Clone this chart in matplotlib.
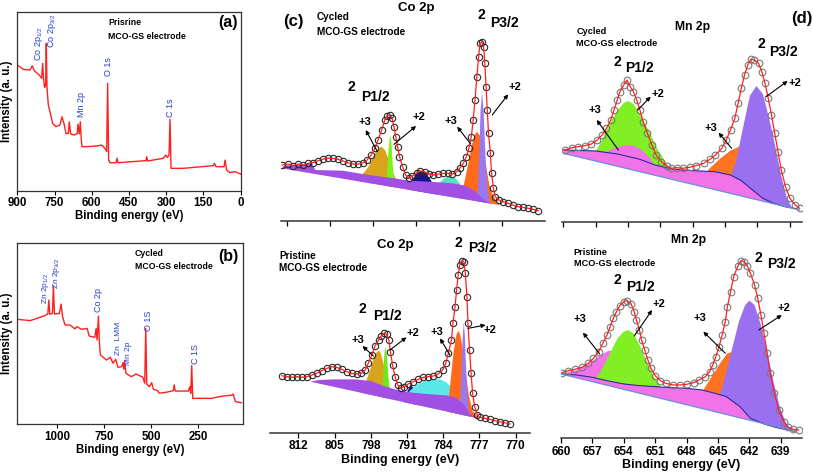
import matplotlib.pyplot as plt

plt.rcParams['font.family'] = ['Liberation Sans', 'DejaVu Sans']
plt.rcParams['font.weight'] = 'bold'
plt.rcParams['mathtext.default'] = 'regular'

# ---- survey spectra (energy eV, intensity a.u.) ----
surv_a_e = [900, 875.8, 849.0, 839.6, 831.5, 811.4, 802.0, 797.9, 793.9, 789.9, 785.8, 783.2, 780.5,
            775.1, 768.4, 757.6, 744.2, 728.1, 720.0, 712.0, 703.9, 694.5, 690.5, 685.1, 671.7, 658.2,
            655.5, 650.2, 646.2, 642.1, 639.4, 620.6, 580.3, 560.1, 546.7, 540.0, 536.0, 532.0, 526.6,
            502.4, 498.4, 494.3, 459.4, 381.5, 378.8, 374.8, 311.6, 302.2, 295.5, 288.8, 284.8, 280.7,
            231.0, 110.2, 106.1, 99.4, 67.2, 63.1, 56.4, 43.0, 22.8, 0]
surv_a_i = [70.2, 67.8, 67.4, 69.8, 67.0, 64.6, 62.8, 71.1, 61.8, 57.7, 59.0, 82.3, 58.1,
            47.9, 44.1, 37.6, 35.8, 36.7, 41.3, 37.6, 32.0, 32.0, 38.5, 31.7, 31.1, 32.0,
            37.2, 31.7, 38.5, 28.3, 24.6, 24.6, 25.0, 25.5, 23.6, 21.8, 60.0, 17.1, 15.6,
            15.6, 18.1, 15.6, 16.0, 16.8, 19.0, 16.6, 18.1, 19.9, 18.6, 19.9, 39.9, 12.5,
            12.5, 14.0, 15.3, 13.4, 13.4, 17.1, 11.5, 10.1, 10.6, 9.3]

surv_b_e = [1211.7, 1144.6, 1074.1, 1051.2, 1045.9, 1040.6, 1026.5, 1021.2, 1015.9, 989.4, 980.6, 971.8,
            959.4, 933.0, 906.5, 897.7, 871.2, 841.2, 830.7, 800.7, 793.6, 788.3, 781.3, 776.0, 770.7,
            738.9, 717.8, 703.6, 689.5, 677.2, 657.8, 650.7, 645.4, 641.9, 634.9, 606.6, 580.2, 544.9,
            534.3, 529.0, 523.7, 509.6, 497.3, 488.4, 465.5, 456.7, 421.4, 382.6, 377.3, 372.0, 301.5,
            294.4, 289.1, 283.8, 278.5, 174.4, 139.1, 95.1, 68.6, 63.3, 51.0, 19.2]
surv_b_i = [57.8, 57.1, 59.6, 60.7, 68.4, 60.6, 61.1, 75.8, 60.7, 61.1, 66.2, 58.9,
            54.7, 54.7, 52.5, 53.8, 52.3, 52.8, 48.6, 47.9, 52.8, 46.4, 59.6, 44.6, 38.2,
            35.4, 36.9, 33.6, 35.8, 31.4, 31.7, 33.9, 30.3, 35.0, 28.1, 26.2, 27.7, 25.9,
            22.6, 52.8, 22.2, 20.7, 22.9, 19.3, 18.5, 17.1, 17.6, 18.5, 21.7, 18.3, 18.3,
            20.7, 17.1, 32.3, 14.3, 14.3, 15.2, 15.8, 16.1, 16.7, 12.5, 11.9]

# ---- Co 2p, cycled: (energy, intensity) ----
co_cyc = [(812.8, 167), (811.8, 170), (811.0, 165), (810.2, 170), (809.4, 167), (808.6, 172), (807.8, 174),
          (807.0, 180), (806.1, 185), (805.3, 188), (804.5, 187), (803.7, 184), (802.9, 179), (802.1, 174),
          (801.3, 170), (800.4, 170), (799.6, 174), (799.0, 182), (798.3, 197), (797.7, 217), (797.2, 242),
          (796.6, 272), (796.1, 302), (795.7, 315), (795.3, 317), (794.9, 307), (794.6, 282), (794.3, 252),
          (794.0, 222), (793.7, 192), (793.2, 162), (792.7, 137), (792.2, 127), (791.6, 134), (790.9, 144),
          (790.3, 149), (789.6, 147), (788.9, 140), (788.2, 137), (787.4, 140), (786.6, 142), (785.8, 142),
          (785.1, 140), (784.4, 147), (783.9, 157), (783.3, 172), (782.8, 192), (782.4, 217), (782.0, 252),
          (781.7, 302), (781.4, 362), (781.1, 432), (780.8, 492), (780.6, 532), (780.3, 537), (780.0, 522),
          (779.8, 472), (779.6, 402), (779.4, 332), (779.2, 262), (778.9, 202), (778.7, 142), (778.4, 97),
          (778.1, 72), (777.5, 62), (776.8, 57), (776.0, 52), (775.2, 47), (774.4, 42), (773.6, 40),
          (772.7, 37), (771.9, 34), (771.1, 30)]
co_cyc_bg = [(812.9, 157), (812.5, 165), (808.0, 172), (807.4, 152), (803.0, 150), (799.0, 138),
             (795.0, 128), (792.0, 120), (788.0, 116), (785.0, 112), (783.0, 105), (781.5, 90),
             (780.5, 72), (779.5, 58), (778.5, 50)]
co_cyc_p12_3 = [(800.5, 119), (799.6, 142), (798.8, 160), (797.9, 195), (797.2, 215), (796.6, 222),
                (796.0, 210), (795.4, 180), (794.9, 150), (794.4, 130), (793.8, 115), (793.4, 97)]
co_cyc_p12_2 = [(795.9, 104), (795.7, 150), (795.5, 210), (795.3, 250), (795.15, 254), (795.0, 230),
                (794.8, 170), (794.6, 125), (794.4, 100)]
co_cyc_sat1 = [(792.5, 94), (791.8, 118), (791.0, 140), (790.2, 150), (789.4, 143), (788.6, 122), (787.5, 78)]
co_cyc_sat2 = [(788.0, 79), (787.0, 117), (786.2, 130), (785.5, 134), (784.7, 130), (783.9, 112), (783.0, 64)]
co_cyc_p32_3 = [(784.0, 68), (783.2, 110), (782.5, 170), (782.0, 220), (781.5, 255), (781.1, 267),
                (780.6, 255), (780.1, 220), (779.6, 165), (779.1, 110), (778.6, 80), (777.8, 55), (777.4, 47)]
co_cyc_p32_2 = [(781.0, 58), (780.7, 200), (780.5, 330), (780.25, 384), (780.0, 330), (779.7, 200),
                (779.4, 100), (779.0, 52)]

# ---- Co 2p, pristine ----
co_pri = [(815.2, 171), (814.3, 168), (813.3, 166), (812.3, 168), (811.4, 166), (810.4, 168), (809.4, 173),
          (808.5, 178), (807.5, 186), (806.5, 193), (805.6, 198), (804.6, 196), (803.6, 190), (802.7, 183),
          (801.7, 178), (800.7, 176), (799.9, 178), (799.1, 188), (798.5, 208), (797.8, 233), (797.2, 260),
          (796.5, 278), (796.0, 290), (795.5, 298), (794.9, 296), (794.5, 278), (794.2, 243), (793.8, 203),
          (793.3, 168), (792.8, 143), (792.2, 133), (791.6, 138), (790.8, 146), (789.8, 153), (788.8, 160),
          (787.9, 166), (786.9, 168), (785.9, 170), (785.0, 176), (784.1, 188), (783.5, 208), (783.0, 238),
          (782.4, 278), (782.1, 328), (781.7, 378), (781.4, 428), (781.1, 473), (780.8, 503), (780.4, 516),
          (780.0, 513), (779.7, 478), (779.4, 408), (779.2, 328), (778.9, 248), (778.6, 178), (778.3, 118),
          (777.9, 78), (777.4, 53), (776.8, 46), (775.9, 43), (775.0, 40), (774.0, 36), (773.0, 33),
          (772.1, 30), (771.1, 26)]
co_pri_bg = [(809.7, 153), (808.0, 158), (805.0, 160), (801.0, 160), (798.0, 155), (795.5, 140),
             (793.3, 130), (790.0, 120), (787.0, 116), (783.3, 112), (781.5, 105), (780.0, 85),
             (779.0, 60), (777.8, 45)]
co_pri_p12_3 = [(800.0, 120), (799.0, 150), (798.2, 185), (797.4, 225), (796.8, 243), (796.4, 246),
                (796.0, 235), (795.5, 205), (795.0, 170), (794.4, 135), (793.8, 110), (793.0, 97)]
co_pri_p12_2 = [(795.8, 106), (795.6, 180), (795.35, 240), (795.1, 258), (794.9, 235), (794.6, 170),
                (794.3, 120), (794.0, 100)]
co_pri_sat1 = [(791.7, 92), (791.0, 120), (790.3, 145), (789.6, 130), (788.8, 82)]
co_pri_sat2 = [(792.0, 93), (790.5, 125), (789.0, 145), (787.5, 155), (786.0, 160), (784.5, 160),
               (783.3, 150), (782.0, 130), (780.5, 100), (779.3, 70), (778.3, 52), (777.5, 44)]
co_pri_p32_3 = [(783.2, 63), (782.6, 150), (782.0, 240), (781.5, 290), (781.1, 306), (780.7, 295),
                (780.2, 250), (779.6, 180), (779.0, 110), (778.3, 65), (777.0, 42)]
co_pri_p32_2 = [(780.8, 55), (780.5, 150), (780.25, 280), (780.0, 333), (779.8, 290), (779.5, 170),
                (779.2, 90), (779.0, 49)]

# ---- Mn 2p, cycled ----
mn_cyc = [(659.85, 217), (659.2, 224), (658.6, 227), (658.0, 230), (657.4, 235), (656.85, 247), (656.4, 262),
          (656.0, 282), (655.6, 307), (655.3, 337), (655.0, 367), (654.75, 392), (654.4, 412), (654.1, 427),
          (653.8, 407), (653.5, 392), (653.2, 367), (652.9, 337), (652.6, 302), (652.2, 267), (651.8, 232),
          (651.4, 202), (650.9, 182), (650.4, 169), (650.0, 162), (649.5, 164), (648.9, 162), (648.3, 165),
          (647.7, 170), (647.0, 177), (646.4, 189), (645.9, 202), (645.3, 222), (644.9, 247), (644.5, 277),
          (644.1, 312), (643.8, 357), (643.5, 402), (643.2, 442), (642.9, 472), (642.6, 489), (642.3, 487),
          (641.9, 477), (641.6, 452), (641.3, 417), (641.0, 372), (640.7, 322), (640.4, 267), (640.1, 212),
          (639.8, 157), (639.4, 107), (639.0, 72), (638.5, 52), (638.1, 42)]
mn_cyc_base = [(660.0, 207), (638.1, 37)]
mn_cyc_bg = [(660.0, 207), (660.0, 217), (657.0, 214), (655.0, 205), (653.0, 190), (651.5, 172),
             (650.0, 160), (648.0, 155), (646.0, 152), (644.5, 142), (643.5, 125), (642.5, 98),
             (641.5, 72), (640.5, 57), (639.5, 47), (638.3, 40)]
mn_cyc_p12_2 = [(657.5, 188), (656.5, 240), (655.8, 290), (655.0, 335), (654.4, 358), (654.0, 364),
                (653.5, 355), (652.8, 320), (652.0, 270), (651.2, 215), (650.5, 180), (649.5, 126)]
mn_cyc_p12_3 = [(657.0, 184), (655.8, 215), (655.0, 225), (654.2, 232), (653.5, 230), (652.8, 218),
                (652.0, 195), (651.0, 137)]
mn_cyc_p32_3 = [(647.5, 110), (646.5, 160), (645.5, 190), (644.5, 215), (643.7, 227), (643.0, 215),
                (642.3, 180), (641.6, 130), (640.8, 80), (640.0, 52)]
mn_cyc_p32_2 = [(645.0, 91), (644.0, 180), (643.3, 290), (642.7, 380), (642.1, 409), (641.5, 385),
                (640.9, 310), (640.3, 220), (639.8, 140), (639.3, 75), (638.8, 43)]

# ---- Mn 2p, pristine ----
mn_pri = [(659.9, 197), (659.3, 203), (658.7, 207), (658.0, 213), (657.4, 225), (656.9, 240), (656.4, 260),
          (656.0, 285), (655.6, 310), (655.3, 335), (655.0, 360), (654.7, 380), (654.4, 397), (654.0, 410),
          (653.7, 413), (653.3, 403), (653.0, 380), (652.8, 355), (652.5, 325), (652.3, 295), (652.0, 265),
          (651.7, 235), (651.4, 210), (651.0, 188), (650.5, 173), (650.0, 165), (649.3, 160), (648.6, 160),
          (648.0, 162), (647.3, 167), (646.8, 175), (646.2, 185), (645.8, 200), (645.5, 220), (645.2, 245),
          (644.9, 275), (644.6, 310), (644.3, 350), (644.1, 395), (643.8, 440), (643.5, 485), (643.1, 517),
          (642.8, 533), (642.5, 530), (642.2, 517), (641.9, 495), (641.5, 460), (641.2, 420), (640.9, 370),
          (640.6, 315), (640.3, 255), (640.0, 195), (639.6, 135), (639.2, 85), (638.7, 50), (638.3, 33),
          (637.8, 27), (637.3, 25)]
mn_pri_base = [(660.0, 193), (637.5, 20)]
mn_pri_bg = [(660.0, 193), (658.5, 190), (657.0, 183), (655.5, 172), (654.0, 163), (652.5, 158),
             (651.0, 155), (649.5, 152), (648.0, 150), (646.5, 145), (645.3, 135), (644.2, 125),
             (642.9, 95), (641.9, 60), (640.5, 42), (639.5, 33), (638.5, 26), (637.5, 20)]
mn_pri_p12_3 = [(660.0, 193), (658.5, 205), (657.3, 225), (656.3, 248), (655.5, 262), (655.0, 263),
                (654.3, 250), (653.5, 220), (652.5, 185), (651.5, 163), (651.0, 124)]
mn_pri_p12_2 = [(657.0, 170), (656.2, 200), (655.4, 250), (654.6, 300), (654.0, 320), (653.6, 325),
                (653.1, 315), (652.5, 280), (651.8, 230), (651.2, 190), (650.6, 160), (650.0, 116)]
mn_pri_p32_3 = [(647.5, 97), (646.5, 140), (645.6, 185), (644.8, 225), (644.1, 255), (643.6, 260),
                (643.0, 245), (642.3, 200), (641.5, 130), (640.5, 43)]
mn_pri_p32_2 = [(645.5, 82), (644.6, 150), (643.8, 250), (643.0, 350), (642.4, 400), (642.0, 413),
                (641.5, 400), (640.9, 340), (640.3, 260), (639.7, 170), (639.1, 95), (638.5, 45), (637.8, 22)]

RED = '#ff1f1f'
BLUE = '#2340c8'
W, H = 813, 475


def px_axes(fig, left, top, right, bottom):
    return fig.add_axes([left / W, 1 - bottom / H, (right - left) / W, (bottom - top) / H])


def survey(ax, e, i, xlim, ticks):
    ax.plot(e, i, color=RED, lw=1.0)
    ax.set_xlim(xlim)
    ax.set_ylim(0, 100)
    ax.set_yticks([])
    ax.set_xticks(ticks)
    ax.tick_params(axis='x', labelsize=8.3, length=3, width=0.8, pad=1.5)
    for s in ax.spines.values():
        s.set_linewidth(0.9)
        s.set_color('#333333')
    ax.set_xlabel('Binding energy (eV)', fontsize=8.3, fontweight='bold', labelpad=1)
    ax.set_ylabel('Intensity (a. u.)', fontsize=8.3, fontweight='bold', labelpad=3)


def peak_label(ax, x, y, s, size=6.5):
    ax.text(x, y, s, rotation=90, color=BLUE, fontsize=size, fontweight='normal',
            ha='center', va='center')


def hires(ax, xlim, ylim, ticks, show_labels):
    ax.set_xlim(xlim)
    ax.set_ylim(ylim)
    ax.set_yticks([])
    ax.set_xticks(ticks)
    for k in ['top', 'right', 'left']:
        ax.spines[k].set_visible(False)
    ax.spines['bottom'].set_linewidth(1.1)
    ax.spines['bottom'].set_color('#333333')
    ax.patch.set_alpha(0)
    ax.tick_params(axis='x', length=3.5, width=0.9, labelsize=8.5, pad=2,
                   labelbottom=show_labels)
    if show_labels:
        ax.set_xlabel('Binding energy (eV)', fontsize=9, fontweight='bold', labelpad=1)


def comp(ax, pts, color):
    e, i = zip(*pts)
    ax.fill(e, i, color=color, lw=0)


def spectrum(ax, pts, edge, ms):
    e, i = zip(*pts)
    ax.plot(e, i, 'o', mfc='none', mec=edge, ms=ms, mew=0.8)
    ax.plot(e, i, color=RED, lw=0.9)


def arrow(ax, tail, head):
    ax.annotate('', xy=head, xytext=tail,
                arrowprops=dict(arrowstyle='-|>', color='k', lw=0.8, mutation_scale=6,
                                shrinkA=0, shrinkB=0))


def orbital(ax, x2, y2, xp, yp, s):
    ax.text(x2, y2, '2', fontsize=10, ha='center', va='center')
    ax.text(xp, yp, s, fontsize=10, ha='left', va='center')


fig = plt.figure(figsize=(8.13, 4.75), dpi=100)

# (a) survey, pristine
ax = px_axes(fig, 17.3, 11.7, 240.7, 190.7)
survey(ax, surv_a_e, surv_a_i, (900, 0), [900, 750, 600, 450, 300, 150, 0])
peak_label(ax, 814, 82, 'Co 2p$_{1/2}$')
peak_label(ax, 761.7, 89.4, 'Co 2p$_{3/2}$')
peak_label(ax, 640.7, 48.4, 'Mn 2p')
peak_label(ax, 533.3, 69.3, 'O 1s')
peak_label(ax, 282.1, 46.6, 'C 1s')
ax.text(533.3, 94.2, 'Prisrine', fontsize=6.3, va='center')
ax.text(533.3, 86.4, 'MCO-GS electrode', fontsize=6.3, va='center')
ax.text(52.4, 93.9, '(a)', fontsize=11.5, ha='center', va='center')

# (b) survey, cycled
ax = px_axes(fig, 17.3, 242.7, 242.7, 424.3)
survey(ax, surv_b_e, surv_b_i, (1214, 12), [1000, 750, 500, 250])
peak_label(ax, 1064, 74.9, 'Zn 2p$_{1/2}$', 6)
peak_label(ax, 1003, 83.1, 'Zn 2p$_{3/2}$', 6)
peak_label(ax, 779.5, 68.4, 'Co 2p')
peak_label(ax, 675, 47.5, 'Zn  LMM', 6)
peak_label(ax, 622, 39.0, 'Mn 2p', 6)
peak_label(ax, 516.7, 57.1, 'O 1S')
peak_label(ax, 266.2, 38.7, 'C 1S')
ax.text(589, 94.1, 'Cycled', fontsize=6.3, va='center')
ax.text(589, 86.8, 'MCO-GS electrode', fontsize=6.3, va='center')
ax.text(86.2, 92.3, '(b)', fontsize=11.5, ha='center', va='center')

# (c) Co 2p, cycled
ax = px_axes(fig, 281, 0, 545, 220.7)
hires(ax, (813.0, 770.0), (0, 662), [812, 805, 798, 791, 784, 777], False)
comp(ax, co_cyc_p12_3, '#d9a31e')
comp(ax, co_cyc_p12_2, '#7df21a')
comp(ax, co_cyc_sat1, '#141490')
comp(ax, co_cyc_sat2, '#4fe3c2')
comp(ax, co_cyc_p32_3, '#ff6a1c')
comp(ax, co_cyc_p32_2, '#9a78f2')
comp(ax, co_cyc_bg, '#a24fe4')
spectrum(ax, co_cyc, '#2a2a2a', 4.6)
ax.text(811.0, 597, '(c)', fontsize=12, ha='center', va='center')
ax.text(807.2, 612, 'Cycled', fontsize=7.2, va='center')
ax.text(807.2, 567, 'MCO-GS electrode', fontsize=7.2, va='center')
ax.text(790.9, 637, 'Co 2p', fontsize=9.5, ha='center', va='center')
orbital(ax, 801.5, 400, 799.9, 372, 'P1/2')
orbital(ax, 780.35, 617, 779.0, 592, 'P3/2')
ax.text(799.35, 297, '+3', fontsize=8, ha='center', va='center')
arrow(ax, (797.3, 207), (799.2, 272))
ax.text(790.5, 312, '+2', fontsize=8, ha='center', va='center')
arrow(ax, (794.6, 229), (791.0, 284))
ax.text(785.4, 300, '+3', fontsize=8, ha='center', va='center')
arrow(ax, (782.1, 230), (784.3, 282))
ax.text(774.9, 400, '+2', fontsize=8, ha='center', va='center')
arrow(ax, (778.6, 317), (776.0, 379))

# (c) Co 2p, pristine
ax = px_axes(fig, 270, 230, 530, 432.7)
hires(ax, (817.5, 767.2), (0, 608), [812, 805, 798, 791, 784, 777, 770], True)
comp(ax, co_pri_p12_3, '#d9a31e')
comp(ax, co_pri_p12_2, '#6fe81a')
comp(ax, co_pri_sat1, '#141490')
comp(ax, co_pri_sat2, '#5ae8e8')
comp(ax, co_pri_p32_3, '#ff6a1c')
comp(ax, co_pri_p32_2, '#9a78f2')
comp(ax, co_pri_bg, '#a24fe4')
spectrum(ax, co_pri, '#2a2a2a', 4.6)
ax.text(793.3, 563, 'Co 2p', fontsize=9.5, ha='center', va='center')
ax.text(815.7, 530, 'Pristine', fontsize=7.2, va='center')
ax.text(815.7, 493, 'MCO-GS electrode', fontsize=7.2, va='center')
orbital(ax, 799.6, 370, 797.6, 350, 'P1/2')
orbital(ax, 781.0, 568, 779.2, 553, 'P3/2')
ax.text(800.5, 278, '+3', fontsize=8, ha='center', va='center')
arrow(ax, (797.5, 230), (799.6, 260))
ax.text(789.8, 298, '+2', fontsize=8, ha='center', va='center')
arrow(ax, (794.3, 248), (791.1, 286))
ax.text(785.3, 303, '+3', fontsize=8, ha='center', va='center')
arrow(ax, (782.7, 233), (784.6, 283))
ax.text(775.0, 308, '+2', fontsize=8, ha='center', va='center')
arrow(ax, (779.2, 313), (775.8, 323))

# (d) Mn 2p, cycled
ax = px_axes(fig, 561.7, 0, 801.7, 222.3)
hires(ax, (660.15, 637.9), (0, 667), [660, 657, 654, 651, 648, 645, 642, 639], False)
comp(ax, mn_cyc_p12_2, '#82ee24')
comp(ax, mn_cyc_p12_3, '#f272e8')
comp(ax, mn_cyc_p32_3, '#ff7422')
comp(ax, mn_cyc_p32_2, '#9a70f0')
comp(ax, mn_cyc_bg, '#f272e8')
e, i = zip(*mn_cyc_bg[1:])
ax.plot(e, i, color='#2a2aa0', lw=0.8)
e, i = zip(*mn_cyc_base)
ax.plot(e, i, color='#6a90e0', lw=0.9)
spectrum(ax, mn_cyc, '#7a7a7a', 4.8)
ax.text(637.9, 612, '(d)', fontsize=12, ha='center', va='center', clip_on=False)
ax.text(648.0, 587, 'Mn 2p', fontsize=8.7, ha='center', va='center')
ax.text(658.8, 572, 'Cycled', fontsize=6.6, va='center')
ax.text(658.8, 537, 'MCO-GS electrode', fontsize=6.6, va='center')
orbital(ax, 655.0, 482, 654.3, 462, 'P1/2')
orbital(ax, 641.6, 535, 640.9, 512, 'P3/2')
ax.text(651.2, 384, '+2', fontsize=8, ha='center', va='center')
arrow(ax, (653.1, 337), (651.9, 377))
ax.text(657.1, 337, '+3', fontsize=8, ha='center', va='center')
arrow(ax, (654.9, 217), (656.9, 307))
ax.text(646.3, 282, '+3', fontsize=8, ha='center', va='center')
arrow(ax, (644.4, 222), (645.6, 269))
ax.text(638.5, 417, '+2', fontsize=8, ha='center', va='center')
arrow(ax, (641.2, 377), (639.2, 424))

# (d) Mn 2p, pristine
ax = px_axes(fig, 561, 230, 801.7, 438.3)
hires(ax, (660.0, 637.0), (0, 625), [660, 657, 654, 651, 648, 645, 642, 639], True)
comp(ax, mn_pri_p12_3, '#f272e8')
comp(ax, mn_pri_p12_2, '#82ee24')
comp(ax, mn_pri_p32_3, '#ff7422')
comp(ax, mn_pri_p32_2, '#9a70f0')
comp(ax, mn_pri_bg, '#f272e8')
e, i = zip(*mn_pri_bg)
ax.plot(e, i, color='#2a2aa0', lw=0.8)
e, i = zip(*mn_pri_base)
ax.plot(e, i, color='#6a90e0', lw=0.9)
spectrum(ax, mn_pri, '#7a7a7a', 4.8)
ax.text(647.8, 595, 'Mn 2p', fontsize=8.7, ha='center', va='center')
ax.text(658.8, 557, 'Pristine', fontsize=6.6, va='center')
ax.text(658.8, 523, 'MCO-GS electrode', fontsize=6.6, va='center')
orbital(ax, 654.6, 475, 653.8, 455, 'P1/2')
orbital(ax, 641.1, 540, 640.3, 523, 'P3/2')
ax.text(658.2, 357, '+3', fontsize=8, ha='center', va='center')
arrow(ax, (656.3, 253), (657.9, 317))
ax.text(650.6, 403, '+2', fontsize=8, ha='center', va='center')
arrow(ax, (653.0, 307), (651.3, 385))
ax.text(646.7, 360, '+3', fontsize=8, ha='center', va='center')
arrow(ax, (644.3, 255), (646.4, 320))
ax.text(638.7, 390, '+2', fontsize=8, ha='center', va='center')
arrow(ax, (641.1, 325), (638.9, 370))

fig.savefig('out.png', dpi=100)
